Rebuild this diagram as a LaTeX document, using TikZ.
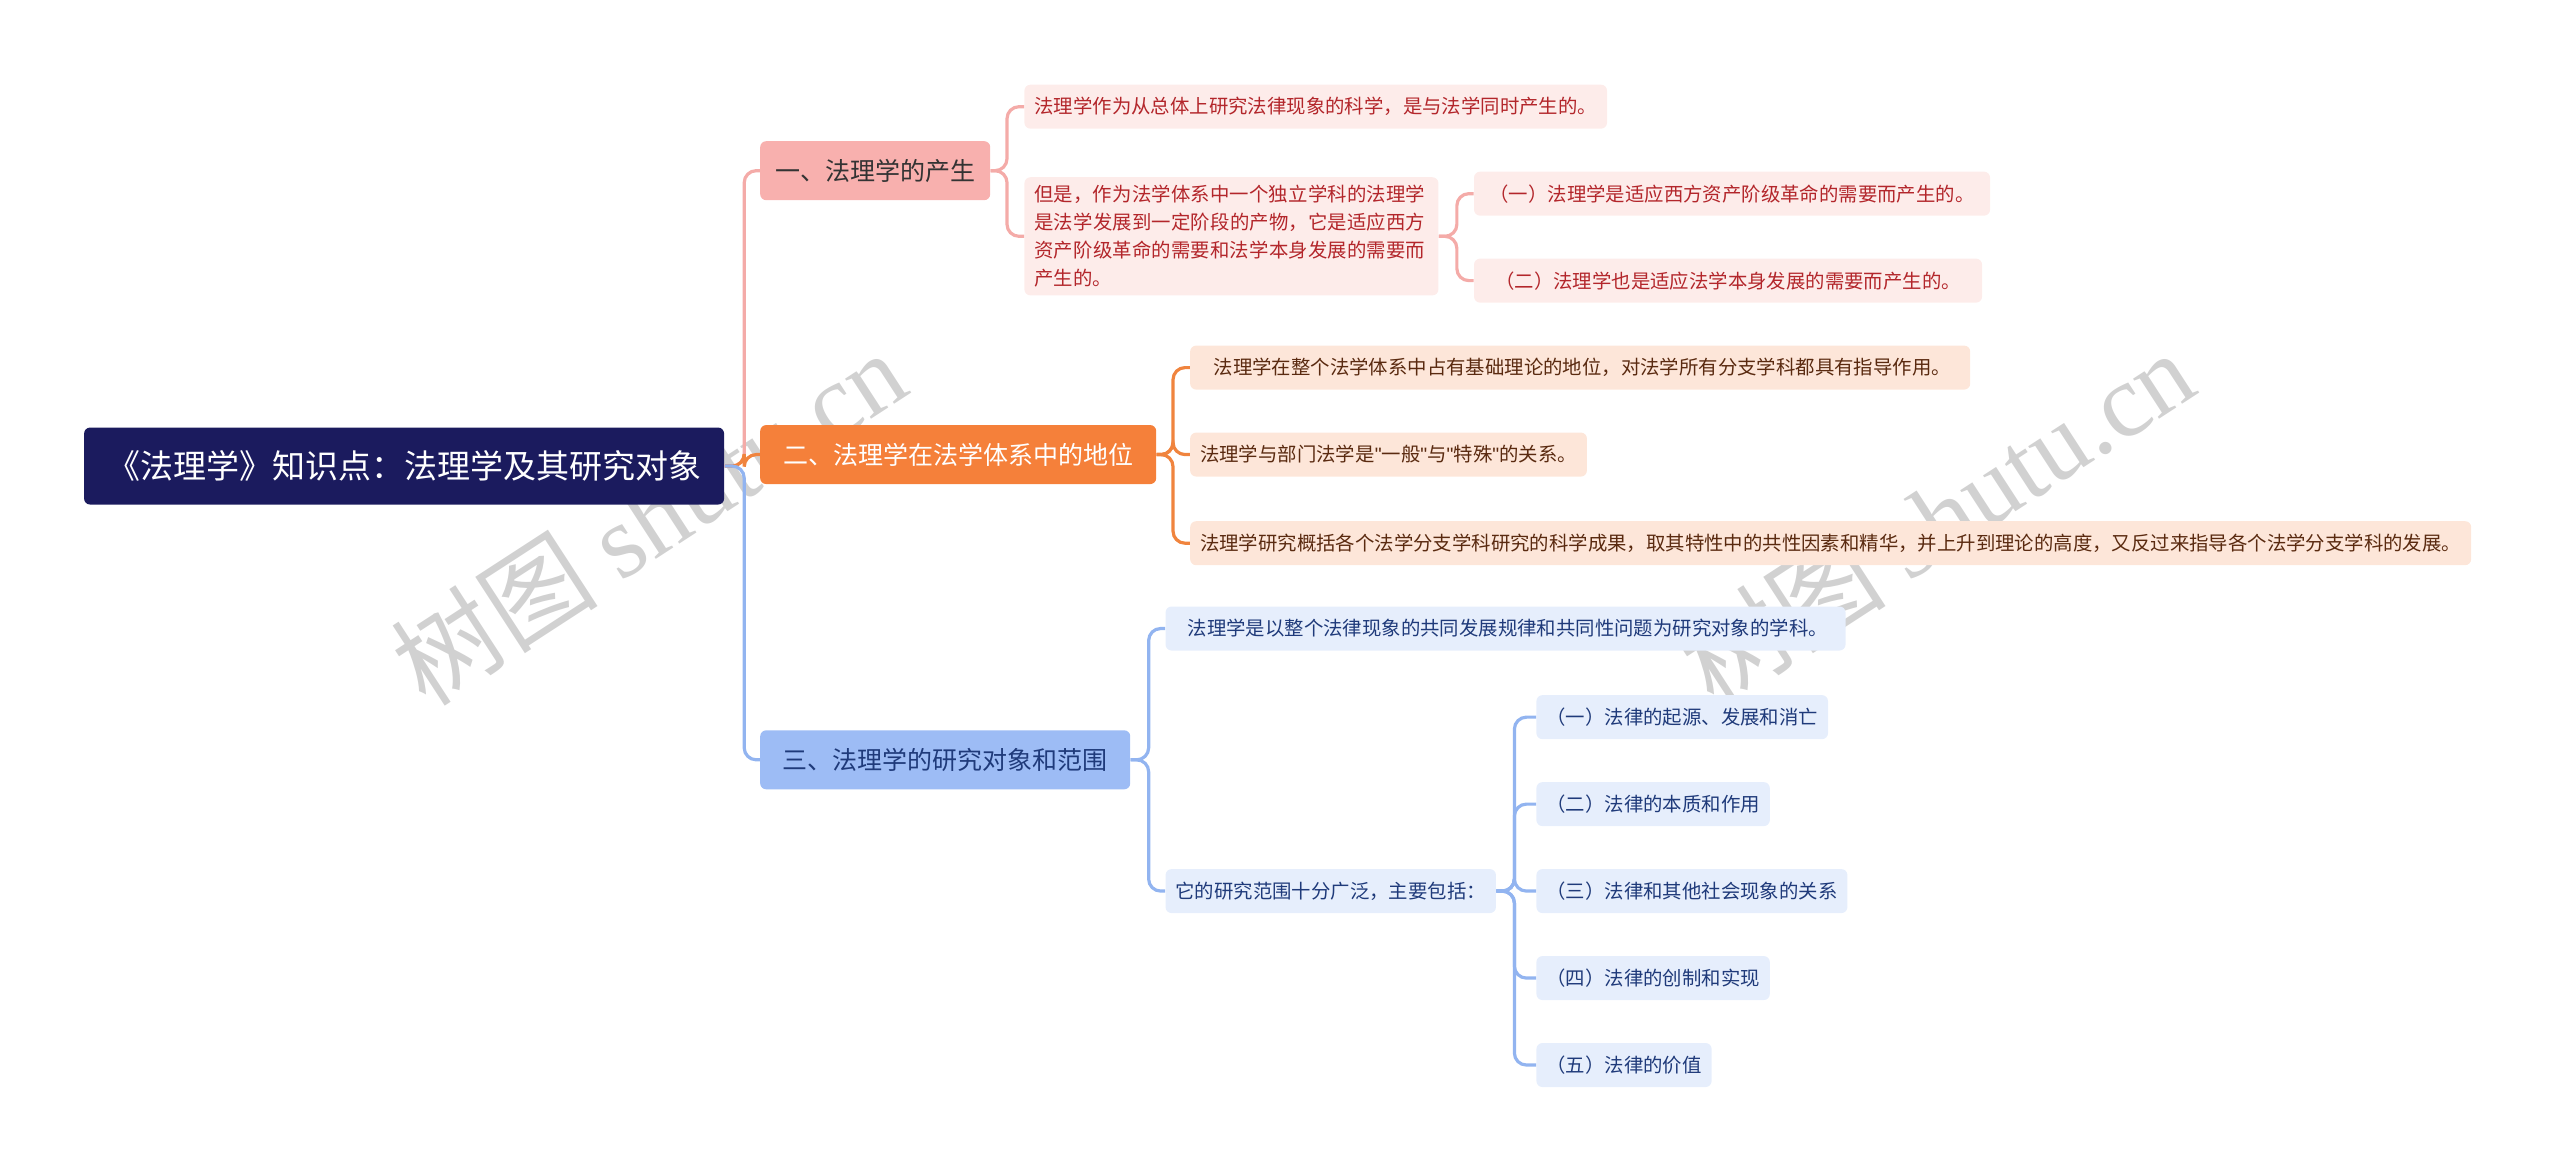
\documentclass[tikz,border=0pt]{standalone}
\usepackage{fontspec}
\setmainfont{Noto Sans CJK SC}
\newfontfamily\latinfont{Liberation Sans}
\newfontfamily\wmfont{Liberation Serif}
\XeTeXlinebreaklocale "zh"
\XeTeXlinebreakskip = 0pt plus 1pt
\usetikzlibrary{positioning}

\definecolor{rootblue}{HTML}{1B1B5E}
\definecolor{pinkline}{HTML}{F4ABA8}
\definecolor{pinkfill}{HTML}{F8B0AE}
\definecolor{pinkleaf}{HTML}{FDECEA}
\definecolor{pinktext}{HTML}{B3262B}
\definecolor{orangeline}{HTML}{F0843E}
\definecolor{orangefill}{HTML}{F5803A}
\definecolor{orangeleaf}{HTML}{FDE6D9}
\definecolor{orangetext}{HTML}{5A2A10}
\definecolor{blueline}{HTML}{92B4F0}
\definecolor{bluefill}{HTML}{9DBCF5}
\definecolor{blueleaf}{HTML}{E6EEFC}
\definecolor{bluetext}{HTML}{1F3A7A}

\tikzset{
  rootbox/.style={fill=rootblue,text=white,rounded corners=3pt,anchor=west,
    minimum height=38.5pt,font=\fontsize{16.5}{18}\selectfont,inner xsep=8pt},
  mainbox/.style={rounded corners=3pt,anchor=west,minimum height=29.5pt,
    font=\fontsize{12.5}{14}\selectfont,inner xsep=7pt},
  leafbox/.style={rounded corners=3pt,anchor=west,minimum height=22pt,
    font=\fontsize{9.7}{12}\selectfont,inner xsep=5pt},
  link/.style={line width=1.6pt,rounded corners=6pt}
}

\begin{document}
\begin{tikzpicture}[x=0.8205pt,y=-0.8205pt]
\useasboundingbox (0,0) rectangle (1560,710);

%%% watermark
\node[text=black!18,rotate=33,font=\fontsize{52}{52}\selectfont] (wmA) at (395,315) {树图 {\wmfont shutu.cn}};
\node[text=black!18,rotate=33,font=\fontsize{52}{52}\selectfont] (wmB) at (1180,315) {树图 {\wmfont shutu.cn}};

%%% root and main branches
\node[rootbox,minimum width=320pt] (root) at (51,284) {《法理学》知识点：法理学及其研究对象};
\node[mainbox,fill=pinkfill,text=black!80,minimum width=115pt] (born) at (463,104) {一、法理学的产生};
\node[mainbox,fill=orangefill,text=white,minimum width=198pt] (place) at (463,277) {二、法理学在法学体系中的地位};
\node[mainbox,fill=bluefill,text=bluetext,minimum width=185pt] (scope) at (463,463) {三、法理学的研究对象和范围};

%%% branch one
\tikzset{leafbox/.append style={fill=pinkleaf,text=pinktext}}
\node[leafbox] (bornA) at (624,65) {法理学作为从总体上研究法律现象的科学，是与法学同时产生的。};
\node[leafbox,text width=197pt,align=left,inner ysep=4pt,font=\fontsize{9.7}{14}\selectfont] (bornB) at (624,144)
  {但是，作为法学体系中一个独立学科的法理学是法学发展到一定阶段的产物，它是适应西方资产阶级革命的需要和法学本身发展的需要而产生的。};
\node[leafbox,minimum width=258pt] (bornB1) at (898,118) {（一）法理学是适应西方资产阶级革命的需要而产生的。};
\node[leafbox,minimum width=254pt] (bornB2) at (898,171) {（二）法理学也是适应法学本身发展的需要而产生的。};

%%% branch two
\tikzset{leafbox/.append style={fill=orangeleaf,text=orangetext}}
\node[leafbox,minimum width=390pt] (placeA) at (725,224) {\ 法理学在整个法学体系中占有基础理论的地位，对法学所有分支学科都具有指导作用。};
\node[leafbox] (placeB) at (725,277) {法理学与部门法学是{\latinfont"}一般{\latinfont"}与{\latinfont"}特殊{\latinfont"}的关系。};
\node[leafbox] (placeC) at (725,331) {法理学研究概括各个法学分支学科研究的科学成果，取其特性中的共性因素和精华，并上升到理论的高度，又反过来指导各个法学分支学科的发展。};

%%% branch three
\tikzset{leafbox/.append style={fill=blueleaf,text=bluetext}}
\node[leafbox,minimum width=340pt] (scopeA) at (710,383) {\ 法理学是以整个法律现象的共同发展规律和共同性问题为研究对象的学科。};
\node[leafbox] (scopeB) at (710,543) {它的研究范围十分广泛，主要包括：};
\node[leafbox] (scopeB1) at (936,437) {（一）法律的起源、发展和消亡};
\node[leafbox] (scopeB2) at (936,490) {（二）法律的本质和作用};
\node[leafbox] (scopeB3) at (936,543) {（三）法律和其他社会现象的关系};
\node[leafbox] (scopeB4) at (936,596) {（四）法律的创制和实现};
\node[leafbox] (scopeB5) at (936,649) {（五）法律的价值};

%%% connectors
\draw[link,pinkline] (root.east) -- ++(12,0) |- (born.west);
\draw[link,orangeline] (root.east) -- ++(12,0) |- (place.west);
\draw[link,blueline] (root.east) -- ++(12,0) |- (scope.west);

\foreach \kid in {bornA,bornB}
  \draw[link,pinkline] (born.east) -- ++(10,0) |- (\kid.west);
\foreach \kid in {bornB1,bornB2}
  \draw[link,pinkline] (bornB.east) -- ++(11,0) |- (\kid.west);
\foreach \kid in {placeA,placeB,placeC}
  \draw[link,orangeline] (place.east) -- ++(10,0) |- (\kid.west);
\foreach \kid in {scopeA,scopeB}
  \draw[link,blueline] (scope.east) -- ++(11,0) |- (\kid.west);
\foreach \kid in {scopeB1,scopeB2,scopeB3,scopeB4,scopeB5}
  \draw[link,blueline] (scopeB.east) -- ++(11,0) |- (\kid.west);

\end{tikzpicture}
\end{document}
